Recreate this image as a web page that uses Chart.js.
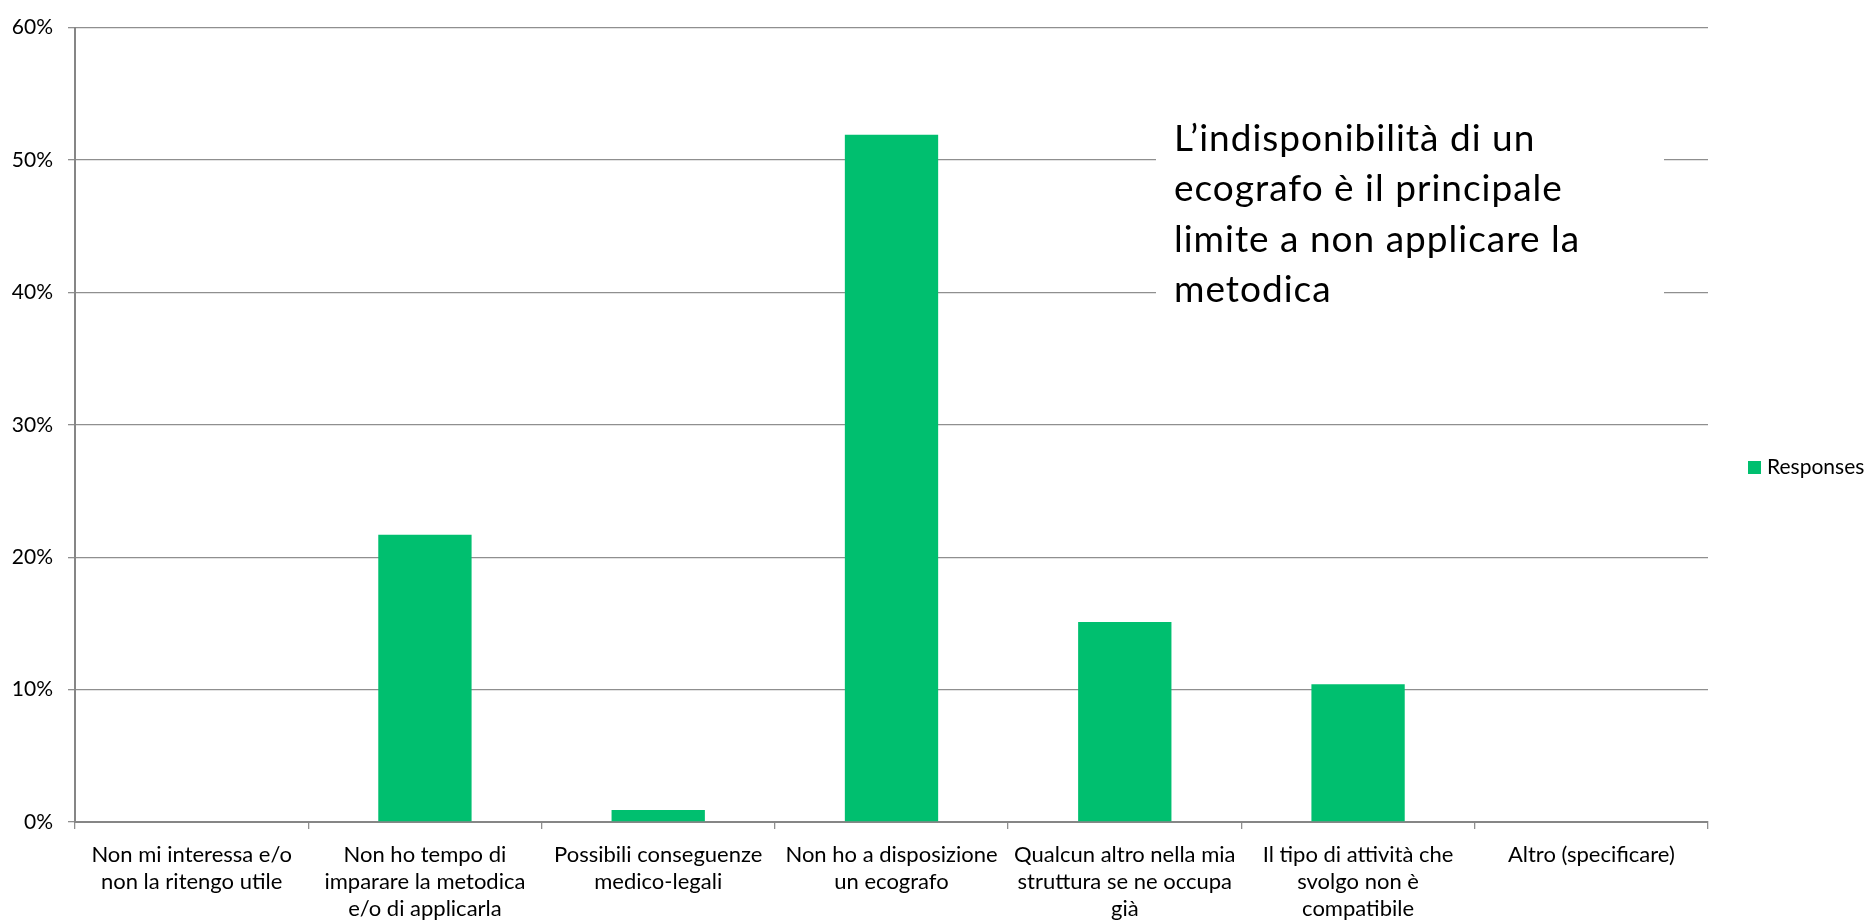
<!DOCTYPE html>
<html>
<head>
<meta charset="utf-8">
<script src="https://cdn.jsdelivr.net/npm/chart.js@4.4.1/dist/chart.umd.min.js"></script>
<style>
  html, body { margin: 0; padding: 0; background: #fff; }
  #wrap { width: 1868px; height: 923px; position: relative; }
</style>
</head>
<body>
<div id="wrap"><canvas id="chart"></canvas></div>
<script>
// ---- data ----
const categories = [
  ["Non mi interessa e/o", "non la ritengo utile"],
  ["Non ho tempo di", "imparare la metodica", "e/o di applicarla"],
  ["Possibili conseguenze", "medico-legali"],
  ["Non ho a disposizione", "un ecografo"],
  ["Qualcun altro nella mia", "struttura se ne occupa", "già"],
  ["Il tipo di attività che", "svolgo non è", "compatibile"],
  ["Altro (specificare)"]
];
const responses = [0, 21.7, 0.9, 51.9, 15.1, 10.4, 0];
const seriesName = "Responses";
const yTicks = [0, 10, 20, 30, 40, 50, 60];
const noteLines = [
  "L\u2019indisponibilità di un",
  "ecografo è il principale",
  "limite a non applicare la",
  "metodica"
];

const FONT = "Lato, 'Open Sans', sans-serif";
const green = "#00BF6F";
const gridGray = "#8f8f8f";

// white callout box with the big text, plus the legend on the right
const overlayPlugin = {
  id: "overlay",
  afterDraw(chart) {
    const c = chart.ctx;
    c.save();
    c.fillStyle = "#fff";
    c.fillRect(1156, 110, 508, 215);
    c.fillStyle = "#000";
    c.font = "37px " + FONT;
    c.letterSpacing = "1px";
    c.textBaseline = "alphabetic";
    c.textAlign = "left";
    noteLines.forEach((line, i) => {
      c.fillText(line, 1174, 151 + i * 50.3);
    });
    c.letterSpacing = "0px";

    // legend
    const ds = chart.data.datasets[0];
    c.fillStyle = ds.backgroundColor;
    c.fillRect(1748, 461, 13, 13);
    c.fillStyle = "#000";
    c.font = "21px " + FONT;
    c.textBaseline = "middle";
    c.fillText(ds.label, 1767, 467.5);
    c.restore();
  }
};

new Chart(document.getElementById("chart"), {
  type: "bar",
  data: {
    labels: categories,
    datasets: [{
      label: seriesName,
      data: responses,
      backgroundColor: green,
      borderWidth: 0,
      barPercentage: 0.4,
      categoryPercentage: 1.0
    }]
  },
  options: {
    responsive: true,
    maintainAspectRatio: false,
    animation: false,
    layout: { padding: { top: 23, right: 160, bottom: 0, left: 0 } },
    plugins: {
      legend: { display: false },
      tooltip: { enabled: false }
    },
    scales: {
      x: {
        grid: {
          display: true,
          drawOnChartArea: false,
          drawTicks: true,
          tickLength: 7,
          color: gridGray,
          lineWidth: 1.3,
          offset: true
        },
        border: { display: true, color: "#868686", width: 2 },
        ticks: {
          color: "#000",
          padding: 12,
          maxRotation: 0,
          autoSkip: false,
          font: { family: FONT, size: 22, lineHeight: "27px" }
        },
        afterFit(scale) { scale.height = 101; }
      },
      y: {
        min: 0,
        max: 60,
        afterBuildTicks(scale) {
          scale.ticks = yTicks.map(v => ({ value: v }));
        },
        grid: {
          color: gridGray,
          lineWidth: 1.3,
          drawTicks: true,
          tickLength: 7
        },
        border: { display: true, color: "#868686", width: 2 },
        ticks: {
          color: "#000",
          padding: 15,
          font: { family: FONT, size: 21 },
          callback: v => v + "%"
        },
        afterFit(scale) { scale.width = 75; }
      }
    }
  },
  plugins: [overlayPlugin]
});
</script>
</body>
</html>
